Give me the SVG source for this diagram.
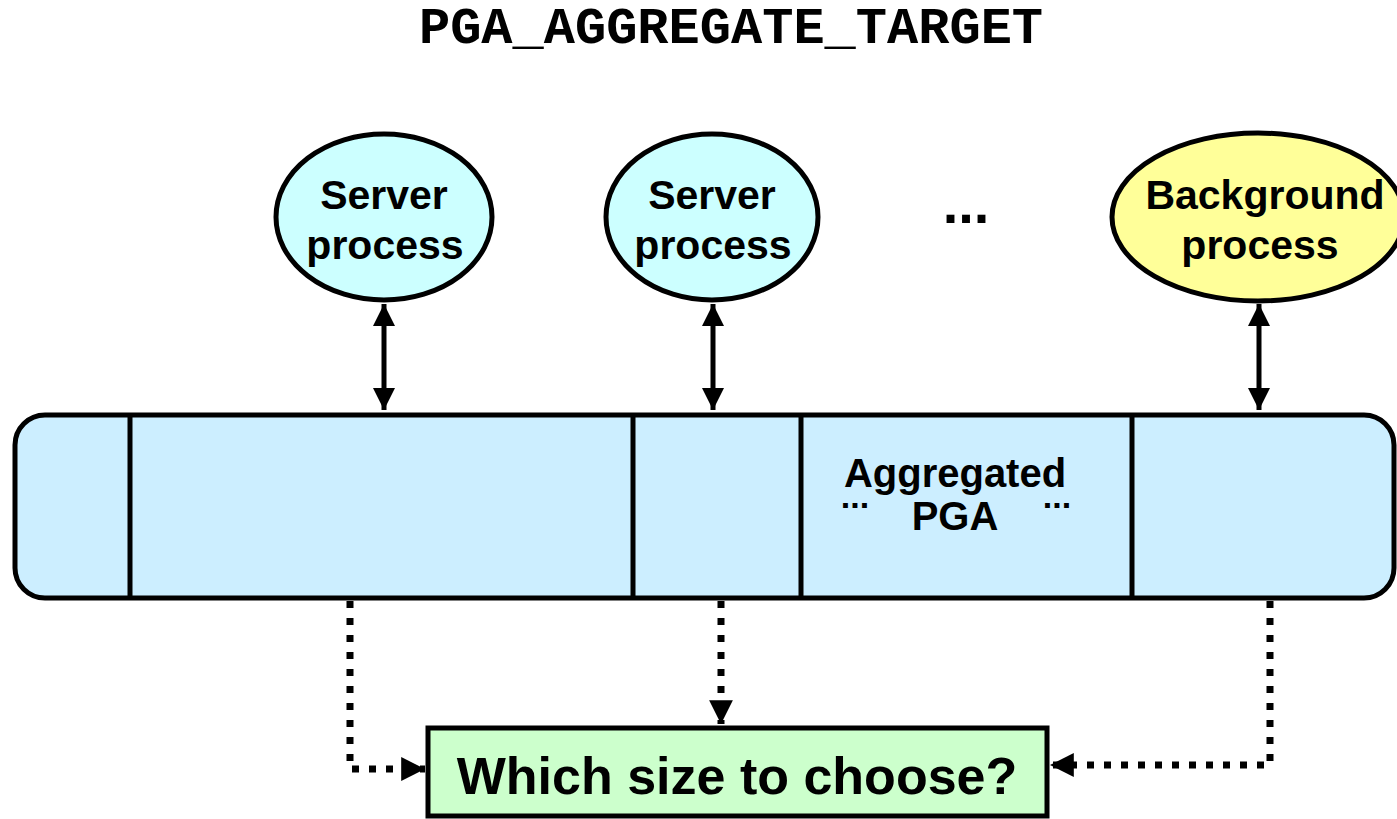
<svg xmlns="http://www.w3.org/2000/svg" width="1397" height="819" viewBox="0 0 1397 819">
  <style>
    .sans { font-family: "Liberation Sans", Arial, sans-serif; font-weight: bold; fill: #000; text-anchor: middle; }
    .mono { font-family: "Liberation Mono", "Courier New", monospace; font-weight: bold; fill: #000; text-anchor: middle; }
    .outline { stroke: #000; stroke-width: 5; }
    .solid { stroke: #000; stroke-width: 5; fill: none; }
    .dotted { stroke: #000; stroke-width: 7; fill: none; stroke-dasharray: 7 10; }
  </style>
  <defs>
    <marker id="head" viewBox="0 0 10 10" refX="10" refY="5" markerWidth="4.4" markerHeight="4.4" markerUnits="strokeWidth" orient="auto-start-reverse">
      <path d="M0,0 L10,5 L0,10 Z" fill="#000"/>
    </marker>
    <marker id="dothead" viewBox="0 0 10 10" refX="10" refY="5" markerWidth="3.4" markerHeight="3.4" markerUnits="strokeWidth" orient="auto">
      <path d="M0,0 L10,5 L0,10 Z" fill="#000"/>
    </marker>
  </defs>

  <!-- title -->
  <text class="mono" x="731" y="43" font-size="52">PGA_AGGREGATE_TARGET</text>

  <!-- process ellipses -->
  <g id="server1">
    <ellipse class="outline" cx="384" cy="217" rx="108" ry="83" fill="#ccffff"/>
    <text class="sans" x="384" y="209" font-size="41">Server</text>
    <text class="sans" x="385" y="259" font-size="41">process</text>
  </g>
  <g id="server2">
    <ellipse class="outline" cx="712" cy="217" rx="106" ry="83" fill="#ccffff"/>
    <text class="sans" x="712" y="209" font-size="41">Server</text>
    <text class="sans" x="713" y="259" font-size="41">process</text>
  </g>
  <g id="more">
    <text class="sans" x="966" y="223" font-size="56">...</text>
  </g>
  <g id="background">
    <ellipse class="outline" cx="1258" cy="217" rx="146" ry="84" fill="#ffff99"/>
    <text class="sans" x="1265" y="209" font-size="41">Background</text>
    <text class="sans" x="1260" y="259" font-size="41">process</text>
  </g>

  <!-- aggregated PGA bar -->
  <g id="pga">
    <rect class="outline" x="15" y="415" width="1379" height="183" rx="30" fill="#cceeff"/>
    <path class="solid" d="M130,415 V598 M633,415 V598 M801,415 V598 M1132,415 V598"/>
    <text class="sans" x="955" y="487" font-size="40">Aggregated</text>
    <text class="sans" x="955" y="530" font-size="40">PGA</text>
    <text class="sans" x="855" y="508" font-size="34">...</text>
    <text class="sans" x="1057" y="508" font-size="34">...</text>
  </g>

  <!-- decision box -->
  <g id="choice">
    <rect class="outline" x="428" y="728" width="619" height="88" fill="#ccffcc"/>
    <text class="sans" x="737" y="794" font-size="52">Which size to choose?</text>
  </g>

  <!-- connectors -->
  <g id="connectors">
    <line class="solid" x1="384" y1="304" x2="384" y2="410" marker-start="url(#head)" marker-end="url(#head)"/>
    <line class="solid" x1="713" y1="304" x2="713" y2="410" marker-start="url(#head)" marker-end="url(#head)"/>
    <line class="solid" x1="1259" y1="304" x2="1259" y2="410" marker-start="url(#head)" marker-end="url(#head)"/>
    <polyline class="dotted" points="350,601 350,769 425,769" marker-end="url(#dothead)"/>
    <polyline class="dotted" points="721,601 721,724" marker-end="url(#dothead)"/>
    <polyline class="dotted" points="1270,601 1270,765 1050,765" marker-end="url(#dothead)"/>
  </g>
</svg>
